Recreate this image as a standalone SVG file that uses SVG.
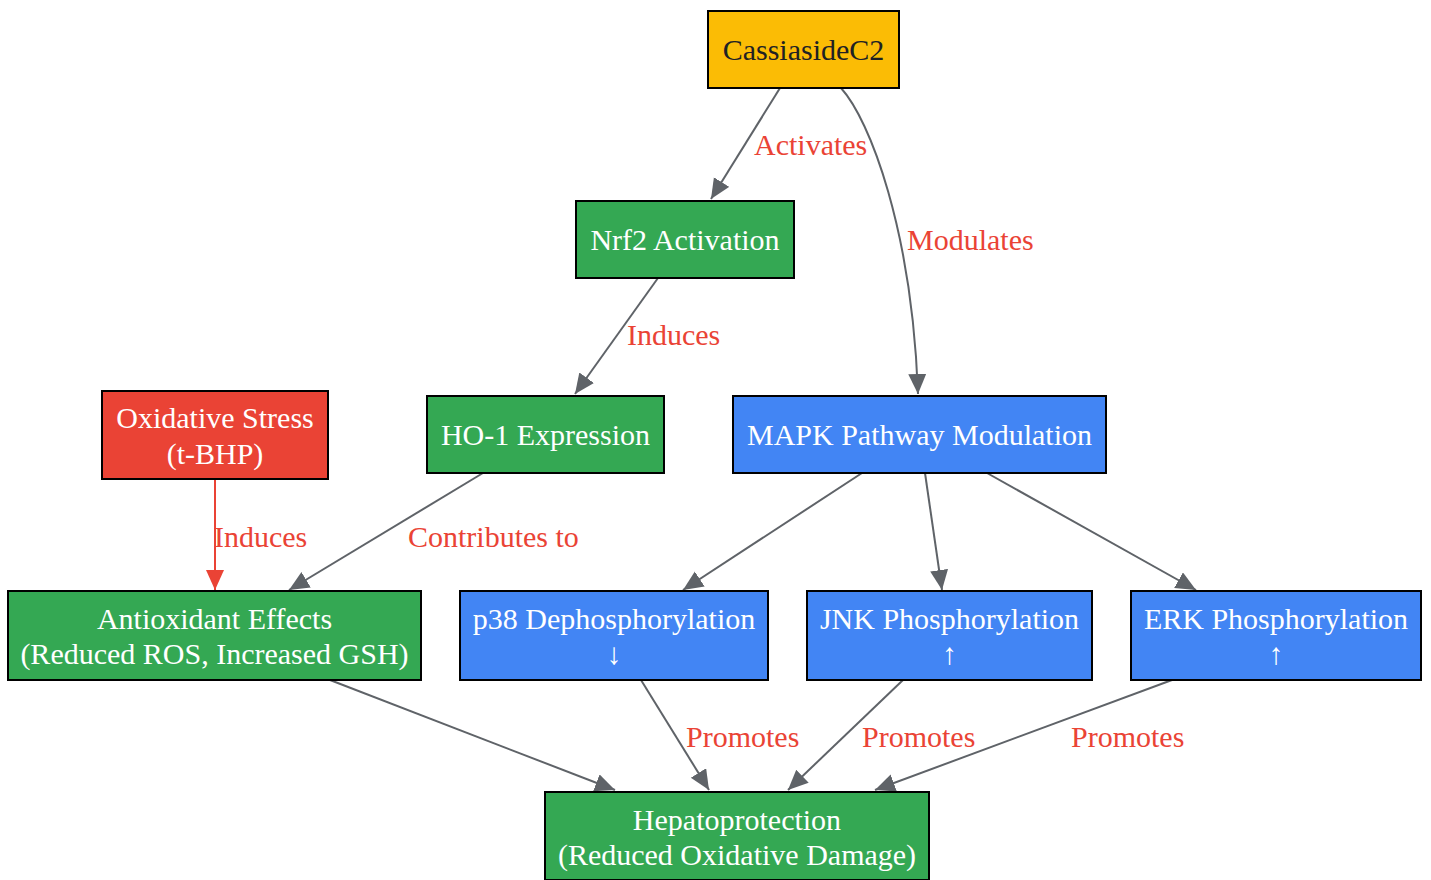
<svg xmlns="http://www.w3.org/2000/svg" width="1431" height="880" viewBox="0 0 1431 880">
<style>
.n rect{stroke:#000;stroke-width:2}
.n text{font-family:"Liberation Serif","Times New Roman",serif;font-size:30px;text-anchor:middle;fill:#fff}
.g rect{fill:#34A853}
.b rect{fill:#4285F4}
.r rect{fill:#EA4335}
.y rect{fill:#FBBC05}
.y text{fill:#202124}
.e path{fill:none;stroke:#5F6368;stroke-width:2;marker-end:url(#ah)}
.e path.red{stroke:#EA4335;marker-end:url(#ahr)}
.lbl text{font-family:"Liberation Serif","Times New Roman",serif;font-size:30px;fill:#EA4335}
</style>
<defs>
<marker id="ah" markerUnits="userSpaceOnUse" markerWidth="22" markerHeight="20" refX="20" refY="9" orient="auto"><path d="M0,0 L20,9 L0,18 z" fill="#5F6368"/></marker>
<marker id="ahr" markerUnits="userSpaceOnUse" markerWidth="22" markerHeight="20" refX="20" refY="9" orient="auto"><path d="M0,0 L20,9 L0,18 z" fill="#EA4335"/></marker>
</defs>
<rect width="1431" height="880" fill="#fff"/>
<g id="edges" class="e">
<path d="M780,88 L711,199"/>
<path d="M841,88 C870,120 912,230 918,394"/>
<path d="M658,278 L575,394"/>
<path class="red" d="M215,479 L215,590"/>
<path d="M483,473 L289,590"/>
<path d="M862,473 L683,590"/>
<path d="M925,473 L942,590"/>
<path d="M987,473 L1196,590"/>
<path d="M330,680 L615,790"/>
<path d="M641,680 L709,790"/>
<path d="M903,680 L788,790"/>
<path d="M1172,680 L875,790"/>
</g>
<g id="labels" class="lbl">
<text x="754" y="155">Activates</text>
<text x="907" y="250">Modulates</text>
<text x="627" y="345">Induces</text>
<text x="214" y="547">Induces</text>
<text x="408" y="547">Contributes to</text>
<text x="686" y="747">Promotes</text>
<text x="862" y="747">Promotes</text>
<text x="1071" y="747">Promotes</text>
</g>
<g id="cassiaside" class="n y"><rect x="708" y="11" width="191" height="77"/><text x="803.5" y="60">CassiasideC2</text></g>
<g id="nrf2" class="n g"><rect x="576" y="201" width="218" height="77"/><text x="685" y="250">Nrf2 Activation</text></g>
<g id="ho1" class="n g"><rect x="427" y="396" width="237" height="77"/><text x="545.5" y="445">HO-1 Expression</text></g>
<g id="oxstress" class="n r"><rect x="102" y="391" width="226" height="88"/><text x="215" y="428">Oxidative Stress</text><text x="215" y="464">(t-BHP)</text></g>
<g id="mapk" class="n b"><rect x="733" y="396" width="373" height="77"/><text x="919.5" y="445">MAPK Pathway Modulation</text></g>
<g id="antiox" class="n g"><rect x="8" y="591" width="413" height="89"/><text x="214.5" y="629">Antioxidant Effects</text><text x="214.5" y="664">(Reduced ROS, Increased GSH)</text></g>
<g id="p38" class="n b"><rect x="460" y="591" width="308" height="89"/><text x="614" y="629">p38 Dephosphorylation</text><text x="614" y="664">↓</text></g>
<g id="jnk" class="n b"><rect x="807" y="591" width="285" height="89"/><text x="949.5" y="629">JNK Phosphorylation</text><text x="949.5" y="664">↑</text></g>
<g id="erk" class="n b"><rect x="1131" y="591" width="290" height="89"/><text x="1276" y="629">ERK Phosphorylation</text><text x="1276" y="664">↑</text></g>
<g id="hepato" class="n g"><rect x="545" y="792" width="384" height="88"/><text x="737" y="830">Hepatoprotection</text><text x="737" y="865">(Reduced Oxidative Damage)</text></g>
</svg>
